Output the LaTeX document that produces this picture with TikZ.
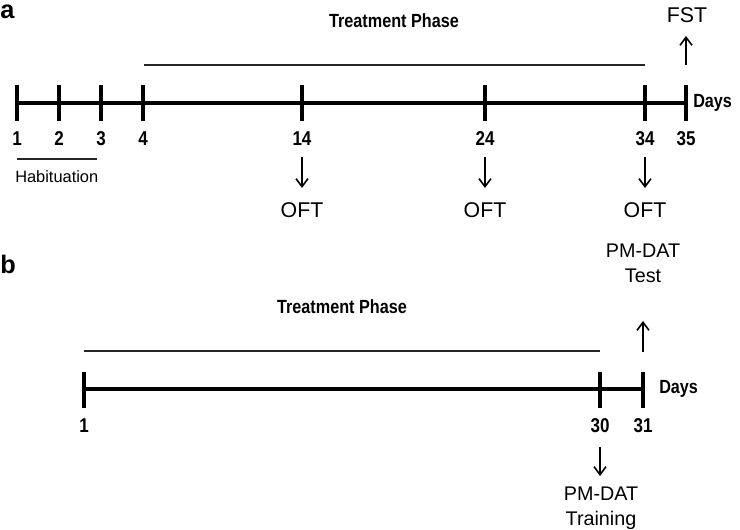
\documentclass[tikz,border=0pt]{standalone}
\usepackage{fontspec}
\setmainfont{Liberation Sans}
\newfontfamily\condfont[FakeStretch=0.85]{Liberation Sans}
\usetikzlibrary{arrows.meta}
\begin{document}
\begin{tikzpicture}[x=0.75pt,y=-0.75pt,
  axis/.style={line width=3pt},
  tickmark/.style={line width=3pt},
  phaseline/.style={line width=1.1pt, draw=black!85},
  evarrow/.style={line width=1.2pt,-{Straight Barb[length=6pt,width=9pt,line width=1.2pt]}},
  numlbl/.style={font=\condfont\bfseries\fontsize{15}{17}\selectfont, anchor=base, inner sep=0pt},
  boldlbl/.style={font=\condfont\bfseries\fontsize{14.3}{17}\selectfont, inner sep=0pt},
  evlbl/.style={font=\fontsize{16}{19}\selectfont, anchor=base, inner sep=0pt},
  pmlbl/.style={font=\fontsize{14.8}{18.75}\selectfont, align=center, inner sep=0pt},
  panel/.style={font=\bfseries\fontsize{19}{20}\selectfont, anchor=base west, inner sep=0pt}]
\useasboundingbox (0,0) rectangle (740,530);

% ---------------- panel a ----------------
\node[panel] (pa) at (0,19) {a};
\node[boldlbl, anchor=base] (tpa) at (394,28) {Treatment Phase};
\coordinate (tpaL) at (144,65);
\coordinate (tpaR) at (645,65);
\draw[phaseline] (tpaL) -- (tpaR);

\foreach \d/\x in {1/17,2/59,3/101,4/143,14/302,24/485,34/645,35/686}{
  \coordinate (a\d) at (\x,103);
  \coordinate (a\d t) at (\x,85);
  \coordinate (a\d b) at (\x,121);
  \draw[tickmark] (a\d t) -- (a\d b);
  \node[numlbl] (na\d) at (\x,146) {\d};
}
\draw[axis] (a1) -- (a35);
\node[boldlbl, anchor=base west] (daysa) at (693,108) {Days};

\coordinate (habL) at (17,159);
\coordinate (habR) at (97,159);
\draw[phaseline] (habL) -- (habR);
\node[font=\fontsize{12.3}{14}\selectfont, anchor=base west, inner sep=0pt] (hab) at (15,183) {Habituation};

\foreach \i/\x in {1/302,2/485,3/645}{
  \coordinate (oa\i s) at (\x,157);
  \coordinate (oa\i e) at (\x,188);
  \draw[evarrow] (oa\i s) -- (oa\i e);
  \node[evlbl] (oft\i) at (\x,218) {OFT};
}
\coordinate (fsts) at (686,65);
\coordinate (fste) at (686,36);
\draw[evarrow] (fsts) -- (fste);
\node[evlbl] (fst) at (687,23) {FST};

% ---------------- panel b ----------------
\node[panel] (pb) at (0,274) {b};
\node[boldlbl, anchor=base] (tpb) at (342,314) {Treatment Phase};
\coordinate (tpbL) at (84,351);
\coordinate (tpbR) at (600,351);
\draw[phaseline] (tpbL) -- (tpbR);

\foreach \d/\x in {1/84,30/600,31/643}{
  \coordinate (b\d) at (\x,389);
  \coordinate (b\d t) at (\x,372);
  \coordinate (b\d b) at (\x,408);
  \draw[tickmark] (b\d t) -- (b\d b);
  \node[numlbl] (nb\d) at (\x,433) {\d};
}
\draw[axis] (b1) -- (b31);
\node[boldlbl, anchor=base west] (daysb) at (659,394) {Days};

\coordinate (tests) at (643,352);
\coordinate (teste) at (643,321);
\draw[evarrow] (tests) -- (teste);
\node[pmlbl, anchor=base] (pmtest) at (643,283) {PM-DAT\\Test};

\coordinate (trs) at (600,447);
\coordinate (tre) at (600,476);
\draw[evarrow] (trs) -- (tre);
\node[pmlbl, anchor=north] (pmtrain) at (601,487) {PM-DAT\\Training};
\end{tikzpicture}
\end{document}
